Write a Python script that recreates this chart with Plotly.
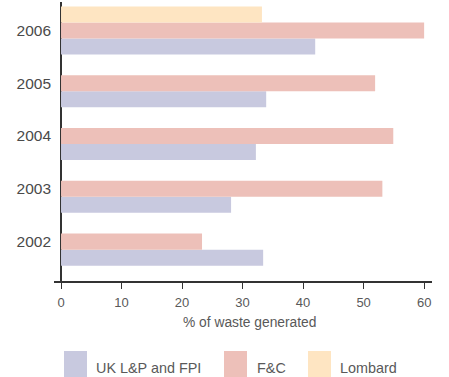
import plotly.graph_objects as go

years = ["2002", "2003", "2004", "2005", "2006"]
uk_lp_fpi = [33.4, 28.1, 32.2, 33.9, 42.0]
f_and_c = [23.3, 53.1, 54.9, 51.9, 60.0]
lombard = [None, None, None, None, 33.2]
x_ticks = [0, 10, 20, 30, 40, 50, 60]

names = ["UK L&P and FPI", "F&C", "Lombard"]
colors = ["#C8C9DF", "#EDC0B9", "#FEE5C2"]
series = [uk_lp_fpi, f_and_c, lombard]

FONT = "Liberation Sans, Arial, Helvetica, sans-serif"

fig = go.Figure()
for name, vals, col in zip(names, series, colors):
    fig.add_trace(go.Bar(y=years, x=vals, name=name, orientation="h",
                         marker=dict(color=col, line=dict(width=0)),
                         showlegend=False))

W, H = 449, 377
ml, mr, mt, mb = 54, 17, 2, 96

fig.update_layout(
    width=W, height=H,
    margin=dict(l=ml, r=mr, t=mt, b=mb, pad=0),
    paper_bgcolor="white", plot_bgcolor="white",
    barmode="group", bargap=0.09, bargroupgap=0,
    font=dict(family=FONT, color="#555555"),
    xaxis=dict(range=[-1.16, 61.3], tickvals=x_ticks, showgrid=False,
               showline=True, linecolor="#333333", linewidth=1.5,
               ticks="outside", ticklen=6, tickcolor="#333333", tickwidth=1,
               ticklabelstandoff=3,
               tickfont=dict(size=13, color="#595959"),
               zeroline=True, zerolinecolor="#333333", zerolinewidth=1.5,
               fixedrange=True),
    yaxis=dict(type="category", categoryorder="array", categoryarray=years,
               range=[-0.746, 4.54], showgrid=False, showline=False,
               ticks="", ticklabelstandoff=2,
               tickfont=dict(size=15.5, color="#4a4a4a"), fixedrange=True),
)

pw = W - ml - mr
ph = H - mt - mb
def px(xp):
    return (xp - ml) / pw
def py(yp):
    return (H - mb - yp) / ph

# axis title
fig.add_annotation(text="% of waste generated", xref="paper", yref="paper",
                   x=px(249), y=py(322),
                   showarrow=False, xanchor="center", yanchor="middle",
                   font=dict(size=13.8, color="#595959", family=FONT))

# manual legend
leg = [(64, 94), (224, 255), (308, 338)]
for (sx, tx), name, col in zip(leg, names, colors):
    fig.add_shape(type="rect", xref="paper", yref="paper",
                  x0=px(sx), x1=px(sx + 23), y0=py(351), y1=py(380),
                  fillcolor=col, line=dict(width=0), layer="above")
    fig.add_annotation(text=name, xref="paper", yref="paper",
                       x=px(tx), y=py(368), showarrow=False,
                       xanchor="left", yanchor="middle",
                       font=dict(size=14.4, color="#595959", family=FONT))

fig.write_html("out.html")
